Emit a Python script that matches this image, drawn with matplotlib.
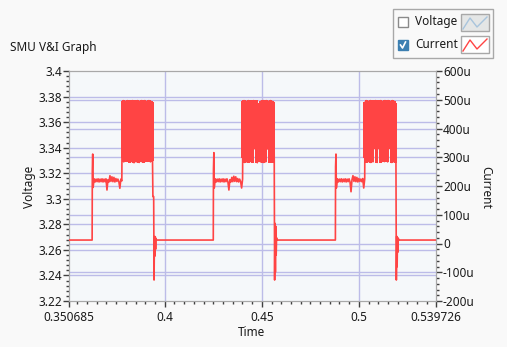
import numpy as np
import matplotlib.pyplot as plt
from matplotlib.patches import Rectangle
from matplotlib.lines import Line2D

plt.rcParams['font.family'] = ['Noto Sans', 'DejaVu Sans']
plt.rcParams['path.simplify'] = False

# time span of the graph (s) and current data in micro-amps
t_start, t_end = 0.350685, 0.539726
baseline_u = 12

rise_t = [0.3626, 0.4250, 0.4879]
rise_edge_u = [253, 258, 267]
spike_u = [311, 316, 311]
burst_t0 = [0.3781, 0.4403, 0.5032]
burst_t1 = [0.3937, 0.4564, 0.5191]

plateau_u = [
    [195, 225, 214, 224, 215, 225, 214, 224, 215, 225, 214, 224, 215, 225, 186,
     222, 214, 236, 216, 232, 215, 230, 214, 226, 216, 224, 215, 192, 224, 218],
    [193, 225, 214, 224, 215, 225, 214, 224, 215, 225, 214, 224, 215, 225, 214,
     186, 222, 214, 230, 215, 234, 216, 232, 215, 226, 214, 224, 215, 193, 224],
    [193, 225, 214, 224, 215, 225, 214, 224, 215, 225, 214, 224, 215, 225, 214,
     180, 222, 236, 216, 232, 215, 230, 214, 226, 216, 224, 215, 226, 193, 224],
]

burst_hi_u = [
    [494, 497, 488, 495, 492, 497, 483, 494, 496, 490, 497, 485, 494, 496, 491,
     497, 484, 495, 493, 497, 489, 494, 497, 486, 495, 493, 497, 490, 494, 492],
    [493, 497, 486, 495, 492, 497, 484, 494, 496, 490, 497, 486, 494, 496, 445,
     447, 488, 495, 493, 497, 489, 494, 497, 486, 495, 493, 497, 490, 494, 491],
    [492, 497, 487, 495, 492, 497, 483, 494, 496, 490, 497, 485, 494, 496, 491,
     497, 484, 495, 493, 497, 489, 494, 497, 486, 495, 493, 497, 490, 494, 487],
]
burst_lo_u = [
    [300, 284, 330, 332, 286, 329, 331, 283, 330, 285, 332, 281, 330, 284, 331,
     330, 282, 329, 285, 331, 330, 283, 332, 329, 286, 331, 330, 284, 329, 290],
    [300, 282, 330, 284, 331, 283, 329, 285, 330, 283, 331, 329, 332, 281, 330,
     331, 284, 330, 329, 282, 331, 284, 330, 329, 331, 283, 285, 330, 283, 292],
    [300, 283, 330, 285, 331, 282, 329, 284, 330, 331, 329, 282, 330, 331, 329,
     283, 330, 332, 285, 331, 329, 284, 330, 331, 329, 282, 330, 284, 331, 283],
]

fall_u = [
    [163, 163, 163, -127, 24, -44, 24, -20, 18],
    [-127, 70, -100, 60, -40, 20],
    [-127, 25, -81, 20, -30, 18],
]

volt_ticks = [3.22, 3.24, 3.26, 3.28, 3.3, 3.32, 3.34, 3.36, 3.38, 3.4]
volt_labels = ['3.22', '3.24', '3.26', '3.28', '3.3', '3.32', '3.34', '3.36', '3.38', '3.4']
cur_ticks = [-200, -100, 0, 100, 200, 300, 400, 500, 600]
cur_labels = ['-200u', '-100u', '0', '100u', '200u', '300u', '400u', '500u', '600u']
time_ticks = [t_start, 0.4, 0.45, 0.5, t_end]
time_labels = ['0.350685', '0.4', '0.45', '0.5', '0.539726']

# build the current trace
t_all = [t_start]
i_all = [baseline_u]
burst_cols = []
for k in range(3):
    r = rise_t[k]
    t_all += [r, r + 0.0001, r + 0.0003]
    i_all += [baseline_u, rise_edge_u[k], spike_u[k]]
    t_all += list(np.linspace(r + 0.0005, burst_t0[k] - 0.0002, len(plateau_u[k])))
    i_all += plateau_u[k]
    n = len(burst_hi_u[k])
    bt = np.linspace(burst_t0[k], burst_t1[k], 2 * n)
    bv = []
    for h, l in zip(burst_hi_u[k], burst_lo_u[k]):
        bv += [h, l]
    t_all += list(bt)
    i_all += bv
    burst_cols.append((bt[::2], burst_lo_u[k], burst_hi_u[k]))
    t_all += [burst_t1[k] + 0.0002 * (j + 1) for j in range(len(fall_u[k]))]
    i_all += fall_u[k]
    t_all.append(burst_t1[k] + 0.0002 * (len(fall_u[k]) + 1))
    i_all.append(baseline_u)
t_all.append(t_end)
i_all.append(baseline_u)

W, H = 507, 347
fig = plt.figure(figsize=(W / 100, H / 100), dpi=100)
fig.patch.set_facecolor('#f9f9f9')

L, R, T, B = 69, 436, 71, 301
ax = fig.add_axes([L / W, 1 - B / H, (R - L) / W, (B - T) / H])
ax.set_facecolor('#f5f8fa')
ax.set_xlim(t_start, t_end)
ax.set_ylim(3.22, 3.4)
ax2 = ax.twinx()
ax2.set_ylim(-200, 600)

grid_c = '#bcbce8'
for v in volt_ticks[1:-1]:
    ax.axhline(v, color=grid_c, lw=1, zorder=0)
for c in cur_ticks[1:-1]:
    ax2.axhline(c, color=grid_c, lw=1, zorder=0)
for t in time_ticks[1:-1]:
    ax.axvline(t, color=grid_c, lw=1, zorder=0)

ax2.plot(t_all, i_all, color='#ff4444', lw=1.2, zorder=3, snap=False)
for bt, lo, hi in burst_cols:
    ax2.vlines(bt, lo, hi, color='#ff4444', lw=1.6, zorder=4, snap=False,
               antialiased=False)

ax.set_xticks(time_ticks)
ax.set_xticklabels(time_labels)
ax.set_xticks(np.arange(0.355, 0.5399, 0.005), minor=True)
ax.set_yticks(volt_ticks)
ax.set_yticklabels(volt_labels)
ax.set_yticks(np.arange(3.224, 3.399, 0.004), minor=True)
ax2.set_yticks(cur_ticks)
ax2.set_yticklabels(cur_labels)
ax2.set_yticks(np.arange(-180, 600, 20), minor=True)

for a in (ax, ax2):
    a.tick_params(which='major', direction='out', length=4, width=1, color='#404040',
                  labelsize=8.5, labelcolor='#1a1a1a', pad=1)
    a.tick_params(which='minor', direction='out', length=2.5, width=1, color='#404040')
    for s in a.spines.values():
        s.set_color('#a8a8a8')
ax.tick_params(axis='x', pad=3)

fig.text(10 / W, 1 - 48 / H, 'SMU V&I Graph', fontsize=8.5, color='#1a1a1a', va='center', ha='left')
fig.text(30 / W, 1 - 187 / H, 'Voltage', fontsize=8.5, color='#1a1a1a', va='center', ha='center', rotation=90)
fig.text(486 / W, 1 - 187 / H, 'Current', fontsize=8.5, color='#1a1a1a', va='center', ha='center', rotation=270)
fig.text(252 / W, 1 - 332 / H, 'Time', fontsize=8.5, color='#1a1a1a', va='center', ha='center')


def box(x, y, w, h, fc, ec, lw=1):
    fig.patches.append(Rectangle((x / W, 1 - (y + h) / H), w / W, h / H, transform=fig.transFigure,
                                 facecolor=fc, edgecolor=ec, lw=lw))


def fline(xs, ys, color, lw=1):
    fig.lines.append(Line2D([x / W for x in xs], [1 - y / H for y in ys], transform=fig.transFigure,
                            color=color, lw=lw))


# legend
box(393, 9, 100, 49, '#f9f9f9', '#a8a8a8')
box(398, 17, 10, 10, 'white', '#8a8a8a')
fig.text(415 / W, 1 - 22 / H, 'Voltage', fontsize=8.5, color='#1a1a1a', va='center', ha='left')
box(461, 14, 28, 17, '#e4e6e6', '#a8a8a8')
fline([463, 470, 477, 487], [29, 18, 27, 17], '#a8c4dc')
box(398, 40, 10, 10, '#3c7fb1', '#3c7fb1')
fline([400.5, 402.5, 405.5], [45, 48, 42], 'white', 1.2)
fig.text(415 / W, 1 - 45 / H, 'Current', fontsize=8.5, color='#1a1a1a', va='center', ha='left')
box(461, 36, 28, 17, 'white', '#a8a8a8')
fline([463, 470, 477, 487], [51, 40, 49, 39], '#ff4444')

fig.savefig('out.png', dpi=100, facecolor=fig.get_facecolor())
